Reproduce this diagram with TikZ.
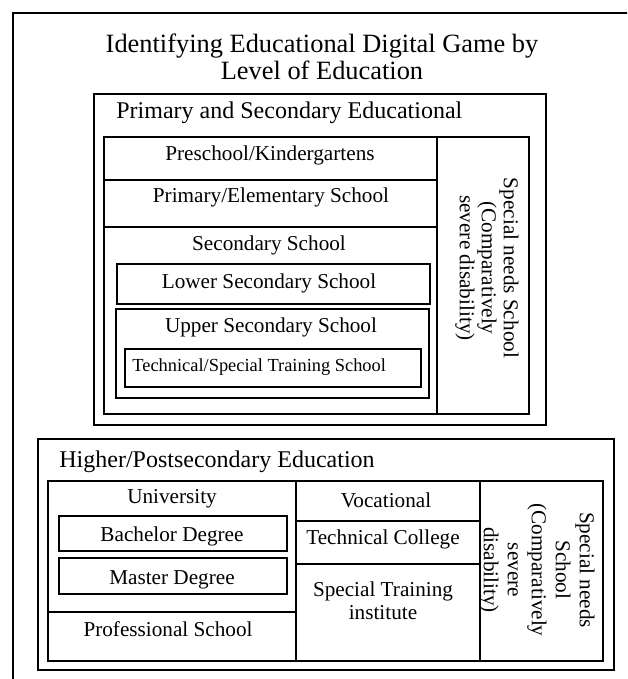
\documentclass[tikz,border=0pt]{standalone}
\usepackage{fontspec}
\setmainfont{Liberation Serif}
\begin{document}
\begin{tikzpicture}[x=0.5pt,y=-0.5pt,
    every node/.style={font=\fontsize{10.6}{12}\selectfont},
    heavy/.style={draw,line width=1.4pt},
    cell/.style={draw,line width=0.65pt},
    inner/.style={draw,line width=1.1pt},
    heading/.style={anchor=west,inner sep=0pt,font=\fontsize{12}{14}\selectfont}]
    \clip (0,0) rectangle (627,679);
    % outer frame
    \draw[heavy] (640,13) -- (13,13) -- (13,690);
    \node[align=center,font=\fontsize{13.2}{13.5}\selectfont] (title) at (322,57) {Identifying Educational Digital Game by\\Level of Education};
    % primary and secondary
    \draw[heavy] (94,94) rectangle (546,425);
    \node[heading] (prim) at (116,113) {Primary and Secondary Educational};
    \draw[cell] (104,137) rectangle (529,414);
    \draw[cell] (437,137) -- (437,414);
    \draw[cell] (104,180) -- (437,180);
    \draw[cell] (104,227) -- (437,227);
    \node (pre) at (270,155) {Preschool/Kindergartens};
    \node (elem) at (271,197) {Primary/Elementary School};
    \node (sec) at (269,245) {Secondary School};
    \draw[inner] (117,264) rectangle (430,304);
    \node (lower) at (269,283) {Lower Secondary School};
    \draw[inner] (116,309) rectangle (429,398);
    \node (upper) at (271,327) {Upper Secondary School};
    \draw[inner] (125,349) rectangle (421,387);
    \node[anchor=west,inner sep=0pt,font=\fontsize{9.2}{11}\selectfont] (tech) at (132,367) {Technical/Special Training School};
    \node[rotate=-90,align=center,font=\fontsize{10.6}{11}\selectfont] (need1) at (487,268) {Special needs School\\(Comparatively\\severe disability)};
    % higher education
    \draw[heavy] (38,439) rectangle (614,670);
    \node[heading] (high) at (59,462) {Higher/Postsecondary Education};
    \draw[cell] (48,481) rectangle (603,661);
    \draw[cell] (296,481) -- (296,661);
    \draw[cell] (480,481) -- (480,661);
    \draw[cell] (48,612) -- (296,612);
    \draw[cell] (296,521) -- (480,521);
    \draw[cell] (296,564) -- (480,564);
    \node (uni) at (172,499) {University};
    \draw[inner] (59,516) rectangle (287,551);
    \node (bach) at (172,536) {Bachelor Degree};
    \draw[inner] (59,558) rectangle (287,594);
    \node (mast) at (172,580) {Master Degree};
    \node (prof) at (168,629) {Professional School};
    \node (voc) at (386,500) {Vocational};
    \node (coll) at (383,539) {Technical College};
    \node[align=center,font=\fontsize{10.6}{11.5}\selectfont] (inst) at (383,601) {Special Training\\institute};
    \node[rotate=-90,align=center] (need2) at (537,570) {Special needs\\School\\(Comparatively\\severe\\disability)};
\end{tikzpicture}
\end{document}
